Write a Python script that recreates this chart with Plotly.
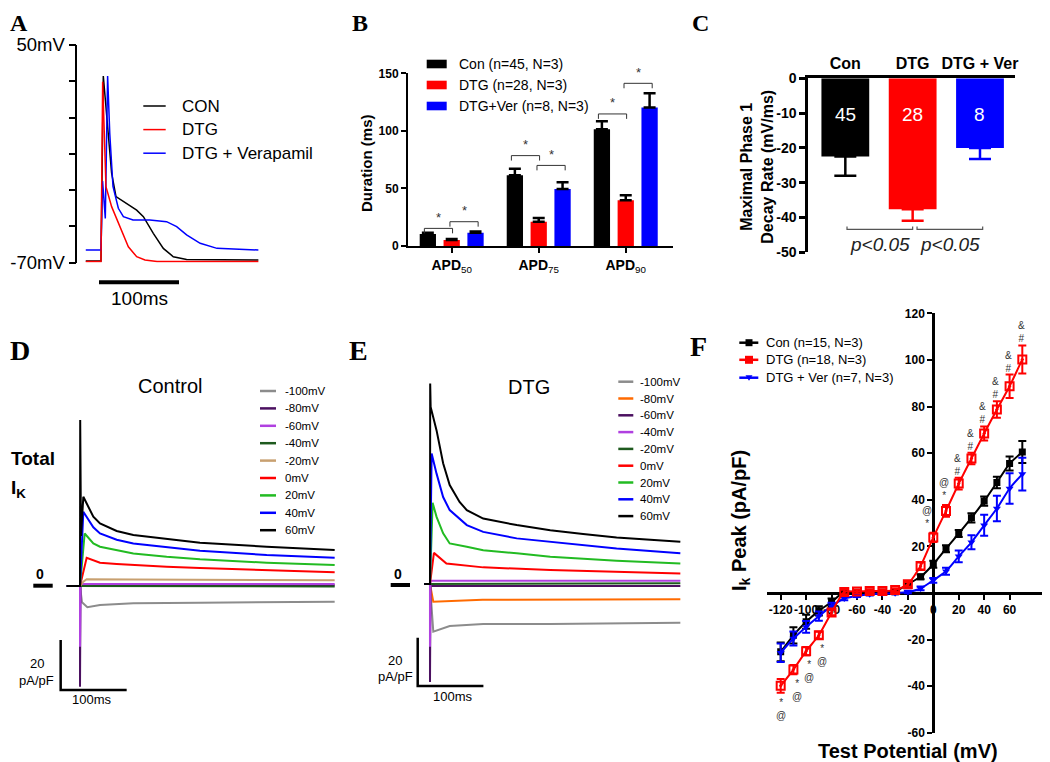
import plotly.graph_objects as go

# The page body adds an 8px margin; the figure is sized so that it fills the 1050x762 window after it.
PAGE_W, PAGE_H = 1050, 762
OFF = 8
W, H = PAGE_W - OFF, PAGE_H - OFF
FONT = "Liberation Sans"
SERIF = "Liberation Serif"

# ---------------- Panel A: action potentials (t in ms, V in mV) ----------------
a_con_t = [-19, 0, 2.9, 5, 7, 13.3, 18.75, 32, 44.6, 53, 65.4, 77.9, 90.4, 107, 196.7]
a_con_v = [-69, -69, 32.9, 21.5, 8.7, -20.7, -33.6, -37.3, -41, -44.6, -53.8, -62.1, -66.7, -68.2, -68.5]
a_dtg_t = [-19, 0, 2.1, 6.25, 13.3, 23.75, 34.2, 44.6, 55, 70, 196.7]
a_dtg_v = [-69.4, -69.4, 29.8, -28.1, -39.1, -50.1, -61.2, -66.7, -68.5, -69.4, -69.4]
a_ver_t = [-19, 0, 2, 5.4, 8.3, 11, 15, 21.7, 28, 40, 61, 82, 94.6, 107, 124, 145, 196.7]
a_ver_v = [-63, -63, -25, -45.6, 32.9, 1, -28, -40, -44.6, -46.5, -46.5, -47.4, -50.1, -54.7, -59.3, -62.1, -63]
a_names = ["CON", "DTG", "DTG + Verapamil"]
a_minor_ticks = [-50, -30, -10, 10, 30]
a_label_ticks = [-70, 50]

# ---------------- Panel B: APD ----------------
b_cats = ["50", "75", "90"]
b_con = [10.4, 61.4, 101.4]
b_con_err = [1.0, 5.6, 6.9]
b_dtg = [5.2, 21.1, 39.7]
b_dtg_err = [0.8, 3.2, 4.3]
b_ver = [11.6, 49.5, 120.2]
b_ver_err = [1.1, 5.8, 12.4]
b_names = ["Con (n=45, N=3)", "DTG (n=28, N=3)", "DTG+Ver (n=8, N=3)"]
# significance brackets: (group index, bar i, bar j, height)
b_sig = [(0, 0, 1, 15.3), (0, 1, 2, 21.1), (1, 0, 1, 78.5), (1, 1, 2, 70.0), (2, 0, 1, 114.7), (2, 1, 2, 141.3)]
b_yticks = [0, 50, 100, 150]

# ---------------- Panel C: phase 1 decay rate ----------------
c_groups = ["Con", "DTG", "DTG + Ver"]
c_means = [-22.5, -37.6, -20.0]
c_sem = [5.5, 3.3, 3.2]
c_n = [45, 28, 8]
c_yticks = [0, -10, -20, -30, -40, -50]

# ---------------- Panel D: Control currents (t ms, pA/pF) ----------------
d_volts = [-100, -80, -60, -40, -20, 0, 20, 40, 60]
d_t = {
    -100: [-20, 0, 3, 11, 30, 80, 180, 382],
    -80: [-20, 0, 0, 0.8, 5, 382],
    -60: [-20, 0, 0, 0.8, 5, 382],
    -40: [-20, 0, 5, 382],
    -20: [-20, 0, 5, 10, 80, 200, 382],
    0: [-20, 0, 10, 30, 55, 80, 130, 180, 280, 382],
    20: [-20, 0, 7, 20, 30, 55, 80, 130, 180, 280, 382],
    40: [-20, 0, 5, 20, 30, 55, 80, 130, 180, 280, 382],
    60: [-20, 0, 0.3, 1.5, 5, 20, 30, 55, 80, 130, 180, 280, 382],
}
d_i = {
    -100: [0, 0, -6.5, -8.5, -7.6, -6.9, -6.7, -6.3],
    -80: [0, 0, -40.3, 0.3, 0.3, 0.3],
    -60: [0, 0, -24.3, 0.8, 0.8, 0.8],
    -40: [0, 0, -0.2, -0.2],
    -20: [0, 0, 1.7, 2.7, 2.6, 2.5, 2.3],
    0: [0, 0, 11.3, 9.3, 8.8, 8.4, 7.7, 7.2, 6.4, 5.5],
    20: [0, 0, 21, 17, 15.7, 14.2, 13, 11.7, 10.7, 9.3, 8.4],
    40: [0, 0, 29.7, 23.5, 21, 18.5, 17, 15.5, 14.1, 12.4, 11.3],
    60: [0, 0, 66.4, 20, 35.7, 27.7, 25, 22, 20.4, 18.7, 17.3, 15.7, 14.4],
}
d_colors = ["#8c8c8c", "#4b1060", "#b040e0", "#1e5a1e", "#c8a070", "#ff0000", "#22bb22", "#0000ff", "#000000"]

# ---------------- Panel E: DTG currents ----------------
e_volts = [-100, -80, -60, -40, -20, 0, 20, 40, 60]
e_t = {
    -100: [-9, 0, 5, 30, 81, 183, 381],
    -80: [-9, 0, 5, 80, 381],
    -60: [-9, 0, 0, 0.8, 381],
    -40: [-9, 0, 0, 0.8, 381],
    -20: [-9, 0, 5, 381],
    0: [-9, 0, 6, 25, 81, 183, 381],
    20: [-9, 0, 4, 10, 20, 30, 56, 81, 132, 183, 284, 381],
    40: [-9, 0, 2.5, 10, 20, 30, 56, 81, 132, 183, 233, 284, 381],
    60: [-9, 0, 0.3, 1, 10, 20, 30, 45, 56, 81, 132, 183, 233, 284, 381],
}
e_i = {
    -100: [0, 0, -19.7, -17.4, -16.5, -16.5, -16.0],
    -80: [0, 0, -7.3, -6.5, -6.3],
    -60: [0, 0, -40.5, -0.8, -0.8],
    -40: [0, 0, -26.0, 1.4, 1.4],
    -20: [0, 0, 0.3, 0.3],
    0: [0, 0, 12.9, 8.5, 6.9, 5.8, 4.4],
    20: [0, 0, 33.6, 27.8, 21, 16.8, 15.4, 14, 12.7, 11.3, 9.6, 8.5],
    40: [0, 0, 54, 45.7, 36, 30.6, 24.4, 21.6, 18.9, 17.5, 16.1, 14.7, 12.7],
    60: [0, 0, 83, 73.3, 63.6, 50, 41, 34, 30.6, 27.1, 24.4, 22.3, 20.7, 19.3, 17.5],
}
e_colors = ["#8c8c8c", "#ff6a00", "#4b1060", "#b040e0", "#1e5a1e", "#ff0000", "#22bb22", "#0000ff", "#000000"]

# ---------------- Panel F: I-V ----------------
f_v = [-120, -110, -100, -90, -80, -70, -60, -50, -40, -30, -20, -10, 0, 10, 20, 30, 40, 50, 60, 70]
f_con = [-25.3, -18.2, -12.4, -7.7, -3.9, 0.5, 0.3, 0.3, 0.3, 0.5, 3.7, 6.9, 12.3, 19.0, 25.5, 32.2, 39.4, 47.4, 55.5, 60.5]
f_con_err = [4, 3.5, 3, 2, 1.5, 1, 0.5, 0.5, 0.5, 0.5, 1, 1, 1.5, 1.5, 1.5, 2, 2, 2.5, 3, 4.7]
f_dtg = [-39.9, -32.9, -25.0, -18.2, -8.4, 0.4, 0.6, 0.8, 0.8, 1.2, 3.7, 11.5, 23.8, 35.2, 46.9, 57.7, 68.4, 78.7, 88.7, 100.2]
f_dtg_err = [3, 2, 1.8, 1.5, 1.2, 1, 0.8, 0.8, 0.8, 0.8, 1, 1.5, 2, 2.5, 2.5, 2.5, 3, 3.5, 5, 6]
f_ver = [-25.7, -19.6, -14.6, -10.0, -5.7, -2.4, -1.3, -0.6, -0.3, -0.1, 0.4, 1.9, 5.4, 9.3, 15.7, 21.7, 29.0, 36.2, 44.8, 51.0]
f_ver_err = [4, 3, 2.5, 2, 1.5, 0.8, 0.5, 0.5, 0.5, 0.5, 0.5, 0.8, 1, 1.5, 2.5, 3, 4.5, 5.5, 6.5, 7]
f_names = ["Con (n=15, N=3)", "DTG (n=18, N=3)", "DTG + Ver (n=7, N=3)"]
f_sig_below = {-120: ("*", "@"), -110: ("*", "@"), -100: ("*", "@"), -90: ("*", "@")}
f_sig_above = {0: ("@", "*"), 10: ("@", "*"), 20: ("&", "#"), 30: ("&", "#"), 40: ("&", "#"),
               50: ("&", "#"), 60: ("&", "#"), 70: ("&", "#")}
f_xticks = [-120, -100, -80, -60, -40, -20, 0, 20, 40, 60]
f_yticks = [-60, -40, -20, 20, 40, 60, 80, 100, 120]

# ---------------- helpers (positions given in window pixels) ----------------
def X(p):
    return (p - OFF) / W

def Y(p):
    return 1 - (p - OFF) / H

def xdom(a, b):
    return [X(a), X(b)]

def ydom(top, bottom):
    return [Y(bottom), Y(top)]

annotations = []
shapes = []

def ann(text, x, y, size, color="black", xanchor="center", yanchor="middle", angle=0,
        family=FONT, xref="paper", yref="paper"):
    if xref == "paper":
        x = X(x)
    if yref == "paper":
        y = Y(y)
    annotations.append(dict(text=text, x=x, y=y, xref=xref, yref=yref, showarrow=False,
                            xanchor=xanchor, yanchor=yanchor, textangle=angle,
                            font=dict(family=family, size=size, color=color)))

def pline(x0, y0, x1, y1, width=2, color="black"):
    shapes.append(dict(type="line", xref="paper", yref="paper", x0=X(x0), y0=Y(y0), x1=X(x1), y1=Y(y1),
                       line=dict(color=color, width=width)))

fig = go.Figure()

def add(tr, n):
    sfx = "" if n == 1 else str(n)
    tr.update(xaxis="x" + sfx, yaxis="y" + sfx, showlegend=False)
    fig.add_trace(tr)

# ---------- Panel A ----------
a_cols = ["black", "#ff0000", "#0000ff"]
for t, v, c in [(a_con_t, a_con_v, a_cols[0]), (a_ver_t, a_ver_v, a_cols[2]), (a_dtg_t, a_dtg_v, a_cols[1])]:
    add(go.Scatter(x=t, y=v, mode="lines", line=dict(color=c, width=1.5)), 1)
for i, (nm, c) in enumerate(zip(a_names, a_cols)):
    yy = 106 + i * 23.6
    pline(143.3, yy, 165.7, yy, 1.5, c)
    ann(nm, 180, yy, 17, xanchor="left")
pline(99, 282.3, 179, 282.3, 4)
ann("100ms", 139, 298, 19)

# ---------- Panel B ----------
b_off = [-0.274, 0.0, 0.274]
b_w = 0.187
b_cols = ["black", "#ff0000", "#0000ff"]
for vals, errs, off, c in [(b_con, b_con_err, b_off[0], b_cols[0]), (b_dtg, b_dtg_err, b_off[1], b_cols[1]),
                           (b_ver, b_ver_err, b_off[2], b_cols[2])]:
    add(go.Bar(x=[0, 1, 2], y=vals, width=b_w, offset=off - b_w / 2, marker=dict(color=c, line=dict(width=0)),
               error_y=dict(type="data", array=errs, arrayminus=[0] * len(errs), symmetric=False,
                            color="black", thickness=2.5, width=6)), 2)
for g, i, j, h in b_sig:
    x0 = g + b_off[i] + (-0.04 if i == 0 else -0.02)
    x1 = g + b_off[j] + (0.01 if j == 1 else 0.03)
    shapes.append(dict(type="path", xref="x2", yref="y2",
                       path=f"M {x0} {h - 4.3} L {x0} {h} L {x1} {h} L {x1} {h - 4.3}",
                       line=dict(color="#333333", width=1)))
    annotations.append(dict(text="*", x=(x0 + x1) / 2, y=h + 1.5, xref="x2", yref="y2", showarrow=False,
                            yanchor="bottom", font=dict(family=FONT, size=13, color="#333333")))
for i, (nm, c) in enumerate(zip(b_names, b_cols)):
    yy = 64 + i * 21
    shapes.append(dict(type="rect", xref="paper", yref="paper", x0=X(426.7), x1=X(446.7), y0=Y(yy - 4.3),
                       y1=Y(yy + 4.3), fillcolor=c, line=dict(width=0)))
    ann(nm, 456.7, yy, 14, xanchor="left")
ann("<b>Duration (ms)</b>", 366.7, 163.3, 15, angle=-90)

# ---------- Panel C ----------
c_cols = ["black", "#ff0000", "#0000ff"]
for i in range(3):
    add(go.Bar(x=[i], y=[c_means[i]], width=0.71, marker=dict(color=c_cols[i], line=dict(width=0)),
               error_y=dict(type="data", array=[0], arrayminus=[c_sem[i]], symmetric=False,
                            color=c_cols[i], thickness=2.5, width=11)), 3)
    annotations.append(dict(text=str(c_n[i]), x=i, y=-10.3, xref="x3", yref="y3", showarrow=False,
                            font=dict(family=FONT, size=19, color="white")))
for x0, x1 in [(0.025, 1.0), (1.065, 2.04)]:
    shapes.append(dict(type="path", xref="x3", yref="y3",
                       path=f"M {x0} -42.6 L {x0} -43.4 L {x1} -43.4 L {x1} -42.6",
                       line=dict(color="#555555", width=1.2)))
    annotations.append(dict(text="<i>p<0.05</i>", x=(x0 + x1) / 2, y=-47.9, xref="x3", yref="y3",
                            showarrow=False, font=dict(family=FONT, size=19, color="#222222")))
ann("<b>Maximal Phase 1<br>Decay Rate (mV/ms)</b>", 757, 166.7, 16, angle=-90)

# ---------- Panel D ----------
for v, c in zip(d_volts, d_colors):
    add(go.Scatter(x=d_t[v], y=d_i[v], mode="lines", line=dict(color=c, width=2)), 4)
for k, (v, c) in enumerate(zip(d_volts, d_colors)):
    yy = 391 + k * 17.4
    pline(260, yy, 276, yy, 2.5, c)
    ann(f"{v}mV", 282.7, yy, 11.5, xanchor="left")
shapes.append(dict(type="path", xref="x4", yref="y4", path="M -29 -21.6 L -29 -41.6 L 70 -41.6",
                   line=dict(color="black", width=2.5)))
ann("20", 36.7, 663.3, 13)
ann("pA/pF", 36.7, 680, 13)
ann("100ms", 91.7, 699.3, 13)
ann("Control", 170, 386, 20)
ann("<b>Total</b>", 9, 458, 19, xanchor="left")
ann("<b>I<sub>K</sub></b>", 9, 489, 19, xanchor="left")
ann("<b>0</b>", 40, 574, 14)
pline(33.3, 585.7, 52.7, 585.7, 4)

# ---------- Panel E ----------
for v, c in zip(e_volts, e_colors):
    add(go.Scatter(x=e_t[v], y=e_i[v], mode="lines", line=dict(color=c, width=2)), 5)
for k, (v, c) in enumerate(zip(e_volts, e_colors)):
    yy = 381.7 + k * 16.8
    pline(618.3, yy, 633.3, yy, 2.5, c)
    ann(f"{v}mV", 638.3, yy, 11.5, xanchor="left")
shapes.append(dict(type="path", xref="x5", yref="y5", path="M -18.7 -22.2 L -18.7 -42.2 L 81.3 -42.2",
                   line=dict(color="black", width=2.5)))
ann("20", 395, 660, 13)
ann("pA/pF", 395, 676, 13)
ann("100ms", 453.3, 696, 13)
ann("DTG", 529, 386.7, 20)
ann("<b>0</b>", 398.3, 574, 14)
pline(390.7, 585, 410, 585, 4)

# ---------- Panel F ----------
f_cols = ["black", "#ff0000", "#0000ff"]
f_markers = [dict(symbol="square", size=7, color="black"),
             dict(symbol="square-open-dot", size=8, color="#ff0000", line=dict(width=2, color="#ff0000")),
             dict(symbol="triangle-down", size=7, color="#0000ff")]
for vals, errs, c, m in [(f_con, f_con_err, f_cols[0], f_markers[0]), (f_ver, f_ver_err, f_cols[2], f_markers[2]),
                         (f_dtg, f_dtg_err, f_cols[1], f_markers[1])]:
    add(go.Scatter(x=f_v, y=vals, mode="lines+markers", line=dict(color=c, width=2, shape="spline", smoothing=0.5),
                   marker=m, error_y=dict(type="data", array=errs, color=c, thickness=2, width=4)), 6)
dtg_map = dict(zip(f_v, f_dtg))
err_map = dict(zip(f_v, f_dtg_err))
for v, (s1, s2) in f_sig_below.items():
    base = dtg_map[v] - err_map[v]
    dx = 0 if v == -120 else 2.5
    annotations.append(dict(text=f"{s1}<br>{s2}", x=v + dx, y=base - 6.8, xref="x6", yref="y6",
                            showarrow=False, font=dict(family=FONT, size=10, color="#333333")))
for v, (s1, s2) in f_sig_above.items():
    base = dtg_map[v] + err_map[v]
    dx = -5.3 if v == 0 else (-1.4 if v == 10 else -1.0)
    off = 6.8 if s2 == "*" else 5.6
    annotations.append(dict(text=f"{s1}<br>{s2}", x=v + dx, y=base + off, xref="x6", yref="y6",
                            showarrow=False, font=dict(family=FONT, size=10, color="#333333")))
for i, (nm, c) in enumerate(zip(f_names, f_cols)):
    yy = [342.7, 359.8, 377.7][i]
    pline(739.3, yy, 758.3, yy, 2.5, c)
    cx = 749
    if i == 0:
        shapes.append(dict(type="rect", xref="paper", yref="paper", x0=X(cx - 3.5), x1=X(cx + 3.5),
                           y0=Y(yy + 3.5), y1=Y(yy - 3.5), fillcolor="black", line=dict(width=0)))
    elif i == 1:
        shapes.append(dict(type="rect", xref="paper", yref="paper", x0=X(cx - 4), x1=X(cx + 4),
                           y0=Y(yy + 4), y1=Y(yy - 4), fillcolor="#ff0000", line=dict(width=0)))
    else:
        shapes.append(dict(type="path", xref="paper", yref="paper",
                           path=f"M {X(cx - 3.5)} {Y(yy - 2.5)} L {X(cx + 3.5)} {Y(yy - 2.5)} L {X(cx)} {Y(yy + 3)} Z",
                           fillcolor="#0000ff", line=dict(width=0)))
    ann(nm, 764, yy, 13, xanchor="left")
ann("<b>Test Potential (mV)</b>", 908.3, 750.5, 20)
ann("<b>I<sub>k</sub> Peak (pA/pF)</b>", 740, 521, 20, angle=-90)

# ---------- panel letters ----------
for letter, x in [("A", 8), ("B", 350), ("C", 690)]:
    ann(f"<b>{letter}</b>", x, 8, 24, family=SERIF, xanchor="left", yanchor="top")
for letter, x, y in [("D", 8, 351), ("E", 347, 351), ("F", 688, 346)]:
    ann(f"<b>{letter}</b>", x, y, 28, family=SERIF, xanchor="left")

hidden = dict(visible=False, showgrid=False, zeroline=False, automargin=False)
bold = lambda s: f"<b>{s}</b>"

fig.update_layout(
    width=W, height=H, margin=dict(l=0, r=0, t=0, b=0, autoexpand=False),
    paper_bgcolor="white", plot_bgcolor="rgba(0,0,0,0)",
    barmode="overlay", showlegend=False,
    font=dict(family=FONT, color="black"),
    xaxis=dict(hidden, domain=xdom(77.3, 270), range=[-29.6, 211.25]),
    yaxis=dict(domain=ydom(45, 262.7), range=[-70, 50], showline=True, linewidth=1.5, linecolor="black",
               ticks="outside", ticklen=7, tickwidth=1.5, tickcolor="black", tickvals=a_label_ticks,
               ticktext=["-70mV", "50mV"], tickfont=dict(size=18.5),
               minor=dict(tickvals=a_minor_ticks, ticks="outside", ticklen=7, tickwidth=1.5, tickcolor="black"),
               showgrid=False, zeroline=False, automargin=False),
    xaxis2=dict(domain=xdom(408, 673), range=[-0.502, 2.543], anchor="y2", showline=True, linewidth=2,
                linecolor="black", ticks="outside", ticklen=5, tickwidth=2, tickcolor="black",
                tickvals=[0, 1, 2], ticktext=[f"<b>APD</b><sub>{c}</sub>" for c in b_cats],
                tickfont=dict(size=14), showgrid=False, zeroline=False, automargin=False),
    yaxis2=dict(domain=ydom(73.3, 246), range=[0, 150], anchor="x2", showline=True, linewidth=2,
                linecolor="black", ticks="outside", ticklen=5, tickwidth=2, tickcolor="black",
                tickvals=b_yticks, ticktext=[bold(v) for v in b_yticks], tickfont=dict(size=12),
                showgrid=False, zeroline=False, automargin=False),
    xaxis3=dict(domain=xdom(808.3, 1015), range=[-0.55, 2.52], anchor="y3", side="top", showline=True,
                linewidth=3, linecolor="black", ticks="", tickvals=[0, 1, 2],
                ticktext=[bold(g) for g in c_groups], tickfont=dict(size=16), showgrid=False, zeroline=False,
                automargin=False),
    yaxis3=dict(domain=ydom(78.3, 252.3), range=[-50, 0], anchor="x3", showline=True, linewidth=3,
                linecolor="black", ticks="outside", ticklen=6, tickwidth=2.5, tickcolor="black",
                tickvals=c_yticks, ticktext=[bold(v) for v in c_yticks], tickfont=dict(size=14),
                showgrid=False, zeroline=False, automargin=False),
    xaxis4=dict(hidden, domain=xdom(20, 345), range=[-90, 397.5], anchor="y4"),
    yaxis4=dict(hidden, domain=ydom(380, 700), range=[-45.6, 82.4], anchor="x4"),
    xaxis5=dict(hidden, domain=xdom(370, 690), range=[-91.3, 395.7], anchor="y5"),
    yaxis5=dict(hidden, domain=ydom(370, 700), range=[-48.0, 88.6], anchor="x5"),
    xaxis6=dict(domain=xdom(766.7, 1048), range=[-131, 90.2], anchor="free", position=Y(592.7),
                showline=True, linewidth=3, linecolor="black", ticks="outside", ticklen=5, tickwidth=2,
                tickcolor="black", tickvals=f_xticks, ticktext=[bold(v) for v in f_xticks], tickangle=0,
                tickfont=dict(size=12), showgrid=False, zeroline=False, layer="below traces", automargin=False),
    yaxis6=dict(domain=ydom(313.3, 732.7), range=[-60, 120], anchor="free", position=X(933.3),
                showline=True, linewidth=3, linecolor="black", ticks="outside", ticklen=5, tickwidth=2,
                tickcolor="black", tickvals=f_yticks, ticktext=[bold(v) for v in f_yticks],
                tickfont=dict(size=12), showgrid=False, zeroline=False, layer="below traces", automargin=False),
    annotations=annotations,
    shapes=shapes,
)

fig.write_html("out.html")
